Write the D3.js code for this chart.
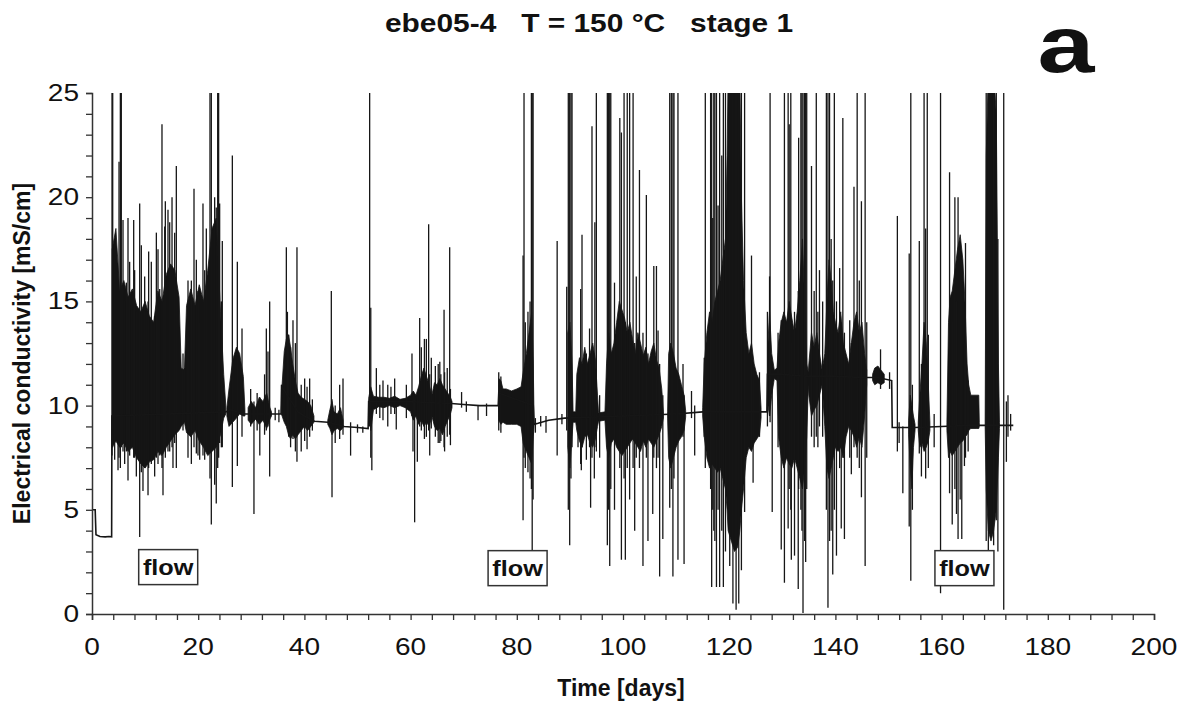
<!DOCTYPE html>
<html>
<head>
<meta charset="utf-8">
<script src="https://cdn.jsdelivr.net/npm/d3@7/dist/d3.min.js"></script>
<style>
  html, body { margin: 0; padding: 0; background: #fff; }
  svg { display: block; }
  text { font-family: "Liberation Sans", Arial, Helvetica, sans-serif; fill: #111; }
</style>
</head>
<body>
<svg id="chart" width="1184" height="706"></svg>
<script>
// ---------------- DATA ----------------
const titleText = "ebe05-4   T = 150 °C   stage 1";
const panelLabel = "a";
const xLabel = "Time [days]";
const yLabel = "Electrical conductivity [mS/cm]";
const xTickValues = [0, 20, 40, 60, 80, 100, 120, 140, 160, 180, 200];
const yTickValues = [0, 5, 10, 15, 20, 25];

// quiet signal: [day, mS/cm]
const baseline = [
  [0,5.0],[0.6,5.0],[0.75,3.8],[1.5,3.72],[2.5,3.7],[3.2,3.72],[3.7,3.7],[3.75,9.5],
  [25.2,9.7],[26,9.8],[28.8,9.6],[29.4,9.6],[33.5,9.6],[35.6,9.6],[35.7,11.0],[36.0,10.8],
  [38.8,9.7],[40,9.5],[41.9,9.25],[44.4,9.2],[47.5,9.0],[50,8.95],[52.0,8.9],[52.1,10.2],
  [55,10.2],[59.5,10.2],[63,10.15],[67.7,10.1],[70,10.05],[73,10.0],[76.5,10.0],[76.6,10.6],
  [83.1,10.0],[83.25,9.1],[84,9.15],[86,9.3],[89,9.4],[95,9.45],[100,9.5],[105,9.55],
  [110,9.6],[115,9.7],[126,9.7],[127.1,9.7],[127.2,11.5],[130,11.5],[135,11.4],[140,11.4],
  [145,11.35],[148,11.35],[150.6,11.2],[150.7,8.95],[155,8.95],[160,9.0],[165,9.05],
  [170,9.05],[173.5,9.05]
];

// dense oscillation envelopes: segments of [day, low, high]
const bands = [
  [[3.8,8.0,17.5],[4.5,8.3,18.5],[5.2,8.0,15.5],[6.0,8.2,16.0],[6.8,7.8,15.2],[7.6,8.0,15.6],
   [8.4,7.5,14.8],[9.2,7.2,14.5],[10.0,7.0,15.0],[10.8,7.3,14.3],[11.6,7.4,14.0],[12.4,7.8,15.5],
   [13.2,7.6,15.0],[14.0,8.0,16.3],[14.8,8.3,16.8],[15.6,8.6,16.5],[16.4,8.8,15.2],[16.8,9.0,11.8],
   [17.4,9.2,11.7],[17.8,8.7,14.8],[18.6,8.5,15.6],[19.4,8.8,14.8],[20.2,8.3,15.8],[21.0,8.0,15.0],
   [21.8,7.6,16.5],[22.6,7.8,18.5],[23.4,8.0,19.0],[24.2,8.6,14.5],[24.8,9.4,11.5],[25.2,9.6,10.0]],
  [[25.4,9.5,9.9],[25.8,9.0,10.8],[26.5,9.2,12.2],[27.2,9.4,12.8],[27.8,9.6,12.5],[28.5,9.5,11.4],[28.8,9.5,9.8]],
  [[29.4,9.3,9.9],[30.0,9.1,10.2],[30.8,9.35,9.9],[31.5,9.1,10.4],[32.2,9.3,10.2],[32.9,8.9,10.6],[33.5,9.35,9.9],[33.8,9.5,9.7]],
  [[35.66,9.6,9.8],[35.8,9.5,11.0],[36.2,9.2,12.6],[36.6,9.0,13.2],[37.0,8.6,13.4],[37.4,8.4,12.8],
   [37.8,8.6,12.0],[38.3,8.4,11.2],[38.8,8.6,10.6],[39.4,8.8,10.4],[40.0,9.0,10.3],[40.6,8.8,10.2],
   [41.2,9.0,10.0],[41.8,9.2,9.5]],
  [[44.4,9.1,9.3],[44.8,8.9,9.8],[45.2,8.6,10.2],[45.6,8.8,9.7],[46.2,8.9,9.6],[46.8,8.8,9.9],[47.3,8.95,9.3]],
  [[52.1,9.9,10.35],[52.5,8.8,10.9],[53,9.8,10.45],[54,9.95,10.4],[55,9.9,10.4],[56,10.0,10.35],
   [57,9.9,10.45],[58,10.0,10.3],[59,9.9,10.35],[60.0,9.7,10.5],[60.5,9.3,10.7],[61.0,9.5,10.5],
   [61.5,9.1,10.9],[62.0,9.3,11.4],[62.5,9.0,11.8],[63.0,9.2,11.4],[63.5,9.0,11.0],[64.0,9.5,10.5],
   [64.5,9.0,11.1],[65.0,8.8,11.0],[65.5,8.9,11.3],[66.0,8.6,11.0],[66.5,9.0,10.8],[67.0,9.3,10.6],
   [67.5,9.6,10.4],[67.8,9.9,10.2]],
  [[76.55,9.9,10.1],[76.6,9.3,11.3],[77.0,9.1,11.2],[77.4,9.2,10.8],[78,9.1,10.8],[79,9.1,10.7],
   [80,9.1,10.8],[80.8,9.0,10.9],[81.2,8.2,11.6],[81.8,7.8,12.5],[82.3,7.5,13.5],[82.8,7.2,14.5],
   [83.1,8.5,12.0],[83.25,9.0,9.4]],
  [[89.6,8.0,13.5],[90.0,7.0,14.0],[90.4,8.5,12.0],[90.6,9.2,9.7],[91.1,9.2,9.7],[91.3,8.8,11.5],
   [91.8,8.3,12.3],[92.3,8.0,12.0],[92.8,8.5,12.8],[93.3,8.6,12.0],[93.8,8.2,12.5],[94.3,8.0,13.0],
   [94.8,8.4,12.2],[95.2,9.0,10.5],[95.4,9.25,9.65],[96.6,9.3,9.7],[96.9,8.0,12.0],[97.3,7.5,13.5],
   [97.8,8.2,12.5],[98.3,8.4,13.0],[98.8,8.0,14.0],[99.3,7.8,15.0],[99.8,7.6,14.6],[100.3,7.8,14.2],
   [100.8,8.0,13.5],[101.3,8.2,14.0],[101.8,8.4,13.2],[102.3,8.2,12.5],[102.8,8.0,13.5],[103.3,7.8,13.0],
   [103.8,8.3,12.4],[104.3,8.0,12.8],[104.8,8.4,12.0],[105.3,8.2,12.6],[105.8,8.0,13.0],[106.3,8.3,12.2],
   [106.8,8.6,11.8],[107.3,9.0,10.8],[107.6,9.4,9.7]],
  [[108.4,9.4,9.7],[108.6,7.5,12.5],[109.0,7.0,13.0],[109.5,7.5,12.5],[110.0,8.0,11.8],[110.5,8.3,11.5],
   [111.0,8.5,11.0],[111.5,8.8,10.5],[111.8,9.45,9.75]],
  [[115.0,9.5,9.9],[115.3,8.5,12.0],[115.8,7.5,13.5],[116.3,7.0,14.5],[116.8,7.2,14.0],[117.3,7.0,15.0],
   [117.8,6.8,15.5],[118.3,7.0,16.0],[118.8,6.5,17.0],[119.3,6.0,18.0],[119.6,5.0,22.0],[119.8,4.0,26],
   [120.4,3.5,26],[121.0,3.0,26],[121.6,3.2,26],[122.0,4.0,26],[122.3,5.0,20],[122.7,6.0,16],
   [123.2,7.5,13.5],[123.7,8.0,12.5],[124.2,7.8,13.0],[124.7,8.2,12.0],[125.2,8.4,11.5],[125.7,8.6,11.2],
   [126.0,9.4,9.9]],
  [[127.3,10.0,13.0],[127.6,9.5,14.5],[128.0,10.5,12.5],[128.5,11.3,11.7],[129.0,11.2,11.8],[129.3,8.5,13.0],
   [129.8,7.5,14.0],[130.3,7.0,14.5],[130.8,7.5,14.0],[131.3,7.2,15.0],[131.8,7.0,14.2],[132.3,7.5,13.5],
   [132.8,7.0,14.5],[133.3,6.5,16.0],[133.8,6.0,18.0],[134.2,7.0,15.0],[134.6,8.5,12.0],[134.9,11.0,11.6],
   [135.0,10.5,12.0],[135.5,9.5,13.5],[136.0,9.8,12.8],[136.5,10.0,13.5],[137.0,10.5,12.5],[137.5,11.0,11.7],
   [138.0,9.0,12.5],[138.4,7.0,15.0],[138.8,6.5,17.0],[139.2,7.0,16.0],[139.6,7.5,14.5],[140.0,8.0,14.0],
   [140.5,7.8,13.5],[141.0,8.0,14.5],[141.5,7.5,13.0],[142.0,8.5,12.5],[142.5,9.0,12.0],[143.0,8.8,13.0],
   [143.5,8.5,14.0],[144.0,8.0,14.5],[144.5,8.5,13.5],[145.0,8.0,14.0],[145.5,9.5,12.5],[145.9,11.0,11.7]],
  [[147.0,11.2,11.5],[147.4,11.0,11.8],[148.0,11.1,11.9],[148.6,11.0,11.7],[149.2,11.1,11.5]],
  [[153.8,8.6,9.3],[154.1,7.0,10.5],[154.4,6.0,10.0],[154.7,8.0,9.5],[155.0,8.8,9.1]],
  [[155.6,8.8,9.2],[155.9,8.0,10.5],[156.3,8.2,12.0],[156.7,7.8,14.0],[157.1,8.0,13.0],[157.5,8.3,11.0],[157.8,8.8,9.2]],
  [[161.0,8.8,9.2],[161.3,7.5,14.0],[161.6,7.8,15.2],[162.0,7.6,15.5],[162.5,7.8,16.5],[163.0,8.0,17.5],
   [163.5,8.2,18.2],[164.0,8.3,17.0],[164.4,8.5,15.0],[164.8,8.6,12.0],[165.1,8.8,11.0],[165.5,8.9,10.5],
   [166.5,8.9,10.5],[167.0,8.9,10.5],[167.1,9.0,9.2]],
  [[168.2,9.0,9.2],[168.4,6.0,22],[168.8,4.0,26],[169.3,3.5,26],[169.8,4.0,26],[170.3,5.0,24],[170.7,7.5,12],[170.9,8.9,9.2]]
];

// isolated excursions: [day, low, high]
const spikes = [
  [3.77,7.6,26],[3.9,8.0,26],[4.27,7.4,17.0],[4.9,6.9,15],[5.09,7.5,21.7],[5.34,7.0,26],[5.52,8.0,26],
  [5.84,7.8,18.9],[6.15,7.2,15.0],[6.47,7.8,15.9],[6.78,6.4,19.0],[7.09,7.6,16.9],[7.41,8.0,14.8],
  [7.85,7.5,18.9],[8.03,7.5,16.5],[8.35,6.6,14.5],[8.98,3.7,19.7],[9.29,6.8,17.7],[9.6,5.9,14.0],
  [9.92,7.0,16.2],[10.23,7.4,14.5],[10.55,5.7,15.0],[10.67,7.0,17.4],[11.17,7.2,16.9],[11.8,6.6,14.3],
  [12.12,7.5,18.3],[12.43,7.2,17.5],[12.75,7.6,15.6],[13.18,7.0,23.5],[13.37,5.7,15],[13.69,7.9,18.6],
  [13.81,7.5,19.8],[14.31,7.8,19.4],[14.63,7.8,18.8],[15.07,8.0,20.0],[15.25,7.0,16.5],[15.57,8.2,18.3],
  [15.88,7.0,21.5],[17.14,8.8,12.5],[17.45,9.3,11.8],[18.08,7.5,16.0],[18.71,7.2,16.0],[19.21,8.0,20.4],
  [19.65,7.7,17.0],[19.96,7.6,15.5],[20.28,7.4,14.0],[20.9,7.6,19.7],[21.22,7.4,16.5],[21.53,7.8,18.5],
  [22.22,6.5,26],[22.47,4.3,26],[23.1,6.2,20],[23.4,5.3,19.5],[23.67,7.0,26],[23.85,7.5,26],
  [24.04,8.2,19.7],[24.36,8.0,15.0],[24.54,8.0,17.9],[26.43,6.1,22.0],[27.37,7.1,16.9],[28.25,8.5,13.7],
  [29.88,9.0,10.8],[30.5,4.8,10.2],[31.1,8.8,10.6],[31.6,7.6,10.4],[32.5,8.6,11.5],[32.83,8.8,13.7],
  [33.14,9.0,12.6],[33.46,6.6,15.0],[34.5,9.3,9.9],[35.2,9.2,9.8],
  [36.6,9.5,17.6],[36.8,9.0,14.5],[37.04,8.5,13.4],[37.4,8.0,12.8],[37.85,8.4,14.1],[38.3,7.8,13.0],
  [38.6,7.3,17.6],[39.4,7.8,11.0],[40.05,8.3,11.3],[40.5,7.9,10.9],[40.99,8.5,11.3],[41.5,8.8,10.3],
  [45.07,9.0,15.5],[45.2,5.6,10.3],[45.8,8.2,10.0],[46.64,8.4,11.0],[47.27,8.6,11.3],[48.7,7.6,9.2],
  [50.0,8.7,9.1],[51.0,8.7,9.0],
  [52.29,9.0,26],[52.5,7.5,14.7],[52.7,6.9,10.5],[53.55,9.6,11.8],[54.2,9.4,11.0],[54.8,9.3,11.2],
  [55.7,9.0,11.0],[56.3,9.6,10.9],[57.0,9.6,11.3],[57.3,8.85,10.3],[59.2,9.4,11.0],
  [60.26,9.5,12.5],[60.45,7.8,10.5],[60.76,4.4,10.3],[61.27,7.3,10.4],[61.71,9.0,14.2],[62.02,8.8,12.8],
  [62.6,8.4,13.2],[62.97,8.5,13.2],[63.4,8.8,18.7],[63.6,7.6,11.5],[63.9,8.9,12.3],[64.66,8.5,11.9],
  [65.2,8.2,12.0],[65.5,8.2,12.1],[65.7,8.3,11.5],[66.3,8.0,14.6],[66.4,7.8,11.6],[66.9,8.5,11.8],
  [67.36,8.6,17.6],[67.5,8.1,10.8],[69.6,9.9,10.65],[70.5,9.7,10.2],[72.7,9.3,10.0],[74.3,9.5,10.1],
  [76.6,8.8,11.6],[77.0,8.7,11.4],[81.18,4.5,17.2],[81.36,7.5,26],[81.6,7.0,14.0],[82.1,6.8,14.5],
  [82.5,6.5,15],[82.75,6.0,26],[82.9,2.5,26],[83.07,5.5,26],
  [83.5,8.7,9.4],[84.5,9.0,9.5],[85.5,8.7,9.5],[87.6,7.6,17.9],[88.5,9.1,9.6],[89.4,8.8,15.7],
  [89.7,5.0,26],[89.96,3.3,26],[90.2,6.5,26],[90.4,8.0,26],
  [91.53,8.0,11.5],[92.03,7.2,15.6],[92.15,6.9,12.0],[92.28,8.0,18.2],[93.1,7.4,12.5],[93.7,8.0,13.7],
  [93.9,5.1,12.0],[94.16,7.5,23.4],[94.6,6.5,12.5],[94.7,8.0,18.8],[94.98,7.8,26],[95.6,7.5,10.5],
  [97.05,3.3,26],[97.3,5.0,26],[97.5,2.3,26],[97.7,6.0,26],[98.4,5.0,15.9],[99.4,7.0,23.8],
  [99.7,2.6,23.1],[100.2,6.5,26],[100.44,2.6,14.0],[100.8,7.0,26],[101.25,5.5,26],[101.9,7.0,26],
  [102.2,4.0,13.0],[102.5,7.5,16.2],[103.1,7.0,21.3],[103.76,2.3,13.5],[104.4,7.5,20.1],[104.7,3.5,12.5],
  [105.6,4.8,12.0],[105.8,7.5,16.7],[106.3,7.0,16.7],[106.6,7.5,13.6],[106.9,1.8,12.0],[107.5,3.6,10.5],
  [108.8,5.1,26],[109.1,6.0,26],[109.4,1.8,26],[109.6,6.5,26],[110.35,2.6,26],[111.3,8.5,12.0],
  [111.5,2.4,10.5],[112.9,9.4,10.7],[113.5,7.6,10.0],[115.3,8.5,12.3],[115.5,7.0,26],[116.5,6.0,26],
  [116.7,1.3,26],[116.9,5.0,19.0],[117.1,4.0,26],[117.3,3.5,26],[117.6,1.3,26],[117.9,5.0,19.6],
  [118.2,1.3,26],[118.6,4.0,22],[118.9,1.3,26],[119.3,3.0,26],
  [120.1,2.3,26],[120.7,0.5,26],[121.3,0.2,26],[121.8,0.5,26],[122.3,2.1,26],[122.9,4.9,26],
  [124.2,8.0,17.2],[124.5,6.3,12.0],[125.7,8.5,11.6],
  [127.2,9.0,14.5],[127.6,9.5,16.2],[127.7,9.2,26],[128.1,4.9,11.8],[129.2,8.0,13.5],[129.8,3.1,14.1],
  [130.4,1.5,26],[131.1,4.1,26],[131.3,6.0,23.5],[131.6,5.0,26],[131.7,2.6,13.0],[132.3,2.8,14.5],
  [133.0,1.2,15.5],[133.08,6.0,22.85],[133.5,5.0,26],[133.7,4.0,26],[133.9,0.05,26],[134.2,3.5,26],
  [134.4,2.5,26],[134.6,6.0,26],
  [135.5,8.5,21.5],[136.0,8.0,15.5],[136.4,8.5,26],[136.7,8.0,14.5],[137.0,9.0,16.5],[137.6,8.5,15.0],
  [138.3,5.0,26],[138.6,0.3,26],[138.9,3.5,26],[139.2,4.0,18],[139.5,1.9,16.0],[139.8,5.0,26],
  [140.2,2.8,15.0],[140.8,7.0,16.6],[141.1,4.1,14.0],[141.4,7.5,23.8],[141.7,3.6,13.5],[142.7,7.5,14.1],
  [143.0,6.7,13.0],[143.5,8.0,20.5],[144.1,7.5,26],[144.5,7.0,16.0],[144.9,5.6,19.8],[145.6,2.3,26],
  [145.9,7.5,14.0],[148.5,10.8,12.7],
  [150.2,10.8,11.6],[151.67,7.8,19.1],[152.0,8.2,9.2],[152.7,5.8,9.0],[153.9,4.2,17.3],[154.2,1.6,26],
  [154.5,5.0,11.0],[155.8,7.7,17.9],[156.2,6.6,12.0],[156.7,8.0,26],[157.0,6.5,18.5],[157.3,8.2,26],
  [157.5,7.0,13.4],[158.6,8.0,9.6],[159.8,1.0,26],
  [161.5,5.8,21.2],[162.0,4.3,14.0],[162.5,6.0,20.0],[162.8,4.8,15.0],[163.1,3.6,20.0],[163.5,5.5,16.0],
  [163.8,3.6,17.0],[164.3,7.1,13.0],[164.5,7.5,17.8],[165.0,7.8,11.2],
  [168.4,3.5,26],[168.8,3.0,26],[169.3,3.8,26],[169.8,3.3,26],[170.3,4.5,26],[170.6,3.0,18],
  [171.7,0.2,26],[172.2,7.3,10.2],[172.5,8.5,10.5],[173.0,8.8,9.6]
];

// "flow" annotations: centre day and value
const flowLabels = [
  { text: "flow", day: 14.35, value: 2.25 },
  { text: "flow", day: 80.15, value: 2.2 },
  { text: "flow", day: 164.3, value: 2.2 }
];

// ---------------- DRAWING ----------------
(function draw() {
const svg = d3.select("#chart");
const mLeft = 92, mRight = 1154, mTop = 93, mBottom = 614;
const stretch = 1.22;   // the reference text is widened horizontally

const x = d3.scaleLinear().domain([0, 200]).range([mLeft, mRight]);
const y = d3.scaleLinear().domain([0, 25]).range([mBottom, mTop]);

svg.append("defs").append("clipPath").attr("id", "plotclip")
  .append("rect").attr("x", mLeft).attr("y", mTop)
  .attr("width", mRight - mLeft).attr("height", mBottom - mTop);

const plot = svg.append("g").attr("clip-path", "url(#plotclip)");

const area = d3.area()
  .x(d => x(d[0])).y0(d => y(d[1])).y1(d => y(d[2]));

plot.selectAll("path.band").data(bands).enter().append("path")
  .attr("class", "band")
  .attr("d", area)
  .attr("fill", "#141414")
  .attr("stroke", "#141414")
  .attr("stroke-width", 0.8);

plot.selectAll("line.spike").data(spikes).enter().append("line")
  .attr("class", "spike")
  .attr("x1", d => x(d[0])).attr("x2", d => x(d[0]))
  .attr("y1", d => y(d[1])).attr("y2", d => y(d[2]))
  .attr("stroke", "#161616").attr("stroke-width", 1.3);

const line = d3.line().x(d => x(d[0])).y(d => y(d[1]));
plot.append("path").datum(baseline)
  .attr("d", line).attr("fill", "none")
  .attr("stroke", "#161616").attr("stroke-width", 1.6);

// axes
const xAxis = svg.append("g").attr("transform", `translate(0,${mBottom})`)
  .call(d3.axisBottom(x).tickValues(d3.range(0, 201, 4)).tickSize(6).tickFormat(""));
const yAxis = svg.append("g").attr("transform", `translate(${mLeft},0)`)
  .call(d3.axisLeft(y).tickValues(d3.range(0, 26, 1)).tickSize(6).tickFormat(""));
[xAxis, yAxis].forEach(g => {
  g.select(".domain").attr("stroke", "#333").attr("stroke-width", 1.5);
  g.selectAll(".tick line").attr("stroke", "#333").attr("stroke-width", 1.3);
});

svg.selectAll("text.xtick").data(xTickValues).enter().append("text")
  .attr("class", "xtick")
  .attr("transform", d => `translate(${x(d)},${mBottom + 41}) scale(${stretch},1)`)
  .attr("text-anchor", "middle")
  .style("font-size", "23px")
  .text(d => d);

svg.selectAll("text.ytick").data(yTickValues).enter().append("text")
  .attr("class", "ytick")
  .attr("transform", d => `translate(${mLeft - 13},${y(d) + 8}) scale(${stretch},1)`)
  .attr("text-anchor", "end")
  .style("font-size", "23px")
  .text(d => d);

// flow boxes
const fl = svg.selectAll("g.flow").data(flowLabels).enter().append("g").attr("class", "flow");
fl.append("rect")
  .attr("x", d => x(d.day) - 29.5).attr("y", d => y(d.value) - 17.5)
  .attr("width", 59).attr("height", 35)
  .attr("fill", "#fff").attr("stroke", "#333").attr("stroke-width", 1.5);
fl.append("text")
  .attr("transform", d => `translate(${x(d.day)},${y(d.value) + 8}) scale(1.15,1)`)
  .attr("text-anchor", "middle")
  .style("font-size", "22px").style("font-weight", "bold")
  .text(d => d.text);

// titles
svg.append("text")
  .attr("transform", `translate(589,32) scale(1.15,1)`)
  .attr("text-anchor", "middle")
  .style("font-size", "26px").style("font-weight", "bold")
  .style("white-space", "pre").attr("xml:space", "preserve")
  .text(titleText);

svg.append("text")
  .attr("transform", `translate(1066,72) scale(1.28,1)`)
  .attr("text-anchor", "middle")
  .style("font-size", "80px").style("font-weight", "bold")
  .text(panelLabel);

svg.append("text").attr("x", 621).attr("y", 696)
  .attr("text-anchor", "middle")
  .style("font-size", "23px").style("font-weight", "bold")
  .text(xLabel);

svg.append("text")
  .attr("transform", `translate(30,${(mTop + mBottom) / 2}) rotate(-90)`)
  .attr("text-anchor", "middle")
  .style("font-size", "23px").style("font-weight", "bold")
  .text(yLabel);
})();
</script>
</body>
</html>
